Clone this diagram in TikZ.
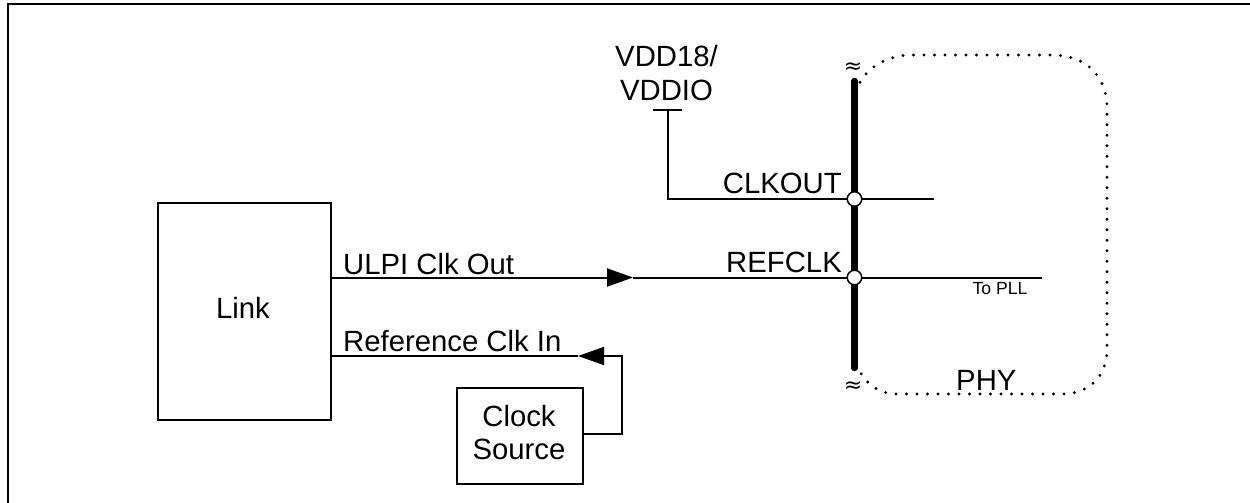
\documentclass[tikz,border=0pt]{standalone}
\usepackage{fontspec}
\setmainfont{Liberation Sans}
\newfontfamily\symfont{DejaVu Sans}
\usetikzlibrary{arrows.meta,calc}
\tikzset{
  x=1pt,y=-1pt,
  wire/.style={draw=black,line width=2pt},
  thinwire/.style={draw=black,line width=1.6pt},
  boxnode/.style={draw=black,line width=1.7pt,fill=white,inner sep=0pt,anchor=north west},
  lbl/.style={inner sep=0pt,anchor=base,font=\fontsize{29.3}{34}\selectfont,align=center},
  smalllbl/.style={inner sep=0pt,anchor=base,font=\fontsize{17.6}{20}\selectfont},
  midtip/.style={-{Triangle[length=26pt,width=18pt,fill=black]}},
  junction/.style={circle,draw=black,line width=1.5pt,fill=white,minimum size=14.5pt,inner sep=0pt},
  brk/.style={inner sep=0pt,font=\symfont\fontsize{22}{22}\selectfont},
  bus/.style={draw=black,line width=6.4pt,line cap=round},
  phyline/.style={draw=black,line width=3.2pt,line cap=round,dash pattern=on 0pt off 10.5pt},
}
\begin{document}
\begin{tikzpicture}
\useasboundingbox (0,0) rectangle (1250,503);
% frame: only top and left edges show
\coordinate (frameTR) at (1250,4.5);
\coordinate (frameTL) at (8,4.5);
\coordinate (frameBL) at (8,503);
\draw[line width=2pt] (frameTR) -- (frameTL) -- (frameBL);
% PHY outline
\draw[phyline] (856,92) .. controls (862,70) and (885,55) .. (912,55) -- (1052,55)
  .. controls (1085,55) and (1107,75) .. (1107,108) -- (1107,350)
  .. controls (1107,375) and (1090,394) .. (1062,394) -- (897,394)
  .. controls (880,394) and (865,385) .. (856,364);
% boxes
\node[boxnode,minimum width=173pt,minimum height=217pt] (link) at (157,202) {};
\node[boxnode,minimum width=126pt,minimum height=96pt] (clock) at (456,387) {};
% bus
\coordinate (busTop) at (854.5,81);
\coordinate (busBot) at (854.5,368);
\draw[bus] (busTop) -- (busBot);
\node[brk] (brkTop) at (853,68) {≈};
\node[brk] (brkBot) at (853,387) {≈};
% junction positions
\coordinate (jClk) at (854.5,199);
\coordinate (jRef) at (854.5,277.5);
% CLKOUT net
\coordinate (vddTee) at (668,110);
\coordinate (vddL) at (653,110);
\coordinate (vddR) at (682,110);
\coordinate (clkEnd) at (934,199);
\draw[wire] (vddL) -- (vddR);
\draw[wire] (vddTee) |- (jClk) -- (clkEnd);
% REFCLK net
\coordinate (ulpiStart) at (link.east |- jRef);
\coordinate (ulpiTip) at (633,277.5);
\coordinate (refEnd) at (1042,277.5);
\draw[wire,midtip] (ulpiStart) -- (ulpiTip);
\draw[wire] (ulpiTip) -- (jRef) -- (refEnd);
% Reference clock net
\coordinate (rcCorner) at (622,356);
\coordinate (rcTip) at (578,356);
\coordinate (rcEnd) at (link.east |- rcTip);
\coordinate (csOut) at (clock.east |- 0,434);
\draw[thinwire,midtip] (csOut) -| (rcCorner) -- (rcTip);
\draw[thinwire] (rcTip) -- (rcEnd);
% junction dots
\node[junction] (dotClk) at (jClk) {};
\node[junction] (dotRef) at (jRef) {};
% labels
\node[lbl] (tVdd) at (666.5,100.7) {VDD18/\\VDDIO};
\node[lbl] (tLink) at (243,318) {Link};
\node[lbl,anchor=base west] (tUlpi) at (343,274) {ULPI Clk Out};
\node[lbl,anchor=base west] (tRef) at (343,351) {Reference Clk In};
\node[lbl] (tClock) at (519,426) {Clock};
\node[lbl] (tSource) at (519,459) {Source};
\node[lbl,anchor=base east] (tClkout) at (842,193) {CLKOUT};
\node[lbl,anchor=base east] (tRefclk) at (842,272) {REFCLK};
\node[smalllbl] (tPll) at (1000,294.5) {To PLL};
\node[lbl,anchor=base west] (tPhy) at (956,390) {PHY};
\end{tikzpicture}
\end{document}
